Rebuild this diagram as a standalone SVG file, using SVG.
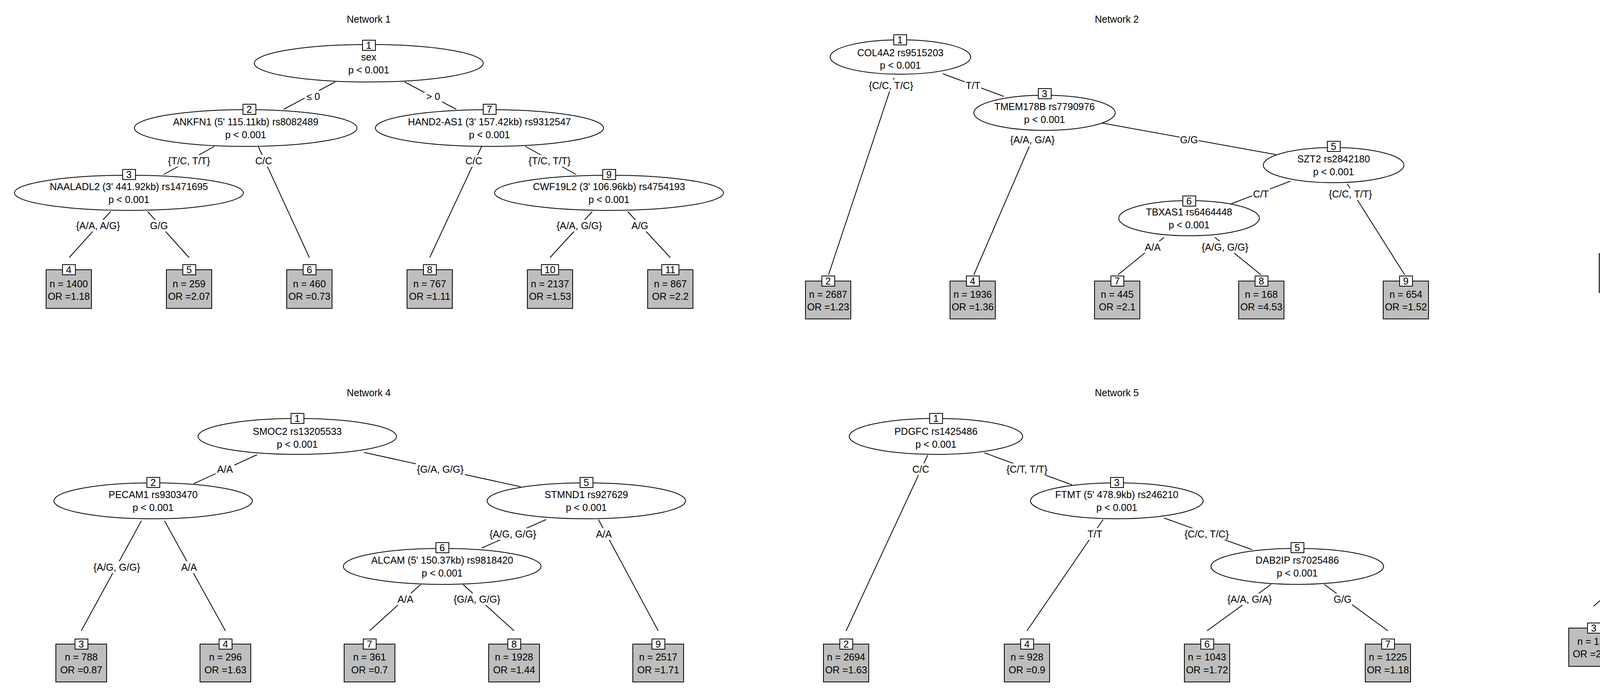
<svg xmlns="http://www.w3.org/2000/svg" width="5568" height="1783" viewBox="0 0 5568 1783">
<style>
text{font-family:"Liberation Sans",Arial,sans-serif;font-size:25px;fill:#000;text-anchor:middle}
.e{fill:#fff;stroke:#000;stroke-width:2}
.t{fill:#bebebe;stroke:#000;stroke-width:2}
.b{fill:#fff;stroke:#000;stroke-width:2}
.c line{stroke:#000;stroke-width:2}
.lb{fill:#fff;stroke:none}
</style>
<rect width="5568" height="1783" fill="#fff"/>
<g class="c" id="connectors">
<!-- N1 -->
<line x1="858" y1="210" x2="726" y2="280"/><line x1="1036" y1="210" x2="1168" y2="280"/>
<line x1="549" y1="375" x2="419" y2="447"/><line x1="661" y1="375" x2="792" y2="660"/>
<line x1="1233" y1="375" x2="1100" y2="660"/><line x1="1345" y1="375" x2="1475" y2="447"/>
<line x1="283" y1="542" x2="177" y2="660"/><line x1="378" y1="542" x2="484" y2="660"/>
<line x1="1516" y1="542" x2="1408" y2="660"/><line x1="1607" y1="542" x2="1716" y2="660"/>
<!-- N2 -->
<line x1="2289" y1="199" x2="2121" y2="704"/><line x1="2414" y1="189" x2="2570" y2="247"/>
<line x1="2635" y1="375" x2="2493" y2="704"/><line x1="2820" y1="315" x2="3266" y2="396"/>
<line x1="3304" y1="464" x2="3152" y2="522"/><line x1="3449" y1="471" x2="3596" y2="704"/>
<line x1="2980" y1="608" x2="2862" y2="704"/><line x1="3110" y1="608" x2="3228" y2="704"/>
<!-- N3 -->
<line x1="4966" y1="223" x2="4579" y2="351"/><line x1="5117" y1="232" x2="5389" y2="597"/>
<line x1="4397" y1="436" x2="4157" y2="597"/><line x1="4534" y1="436" x2="4774" y2="597"/>
<!-- N4 -->
<line x1="658" y1="1165" x2="496" y2="1239"/><line x1="932" y1="1159" x2="1333" y2="1247"/>
<line x1="362" y1="1334" x2="208" y2="1616"/><line x1="421" y1="1334" x2="577" y2="1616"/>
<line x1="1398" y1="1331" x2="1233" y2="1404"/><line x1="1532" y1="1331" x2="1685" y2="1616"/>
<line x1="1076" y1="1498" x2="946" y2="1616"/><line x1="1186" y1="1498" x2="1316" y2="1616"/>
<!-- N5 -->
<line x1="2375" y1="1166" x2="2166" y2="1616"/><line x1="2520" y1="1160" x2="2744" y2="1242"/>
<line x1="2824" y1="1331" x2="2629" y2="1616"/><line x1="2980" y1="1327" x2="3205" y2="1408"/>
<line x1="3254" y1="1497" x2="3090" y2="1616"/><line x1="3390" y1="1497" x2="3553" y2="1616"/>
<!-- N6 -->
<line x1="4674" y1="1183" x2="4409" y2="1302"/><line x1="4873" y1="1183" x2="5139" y2="1303"/>
<line x1="4256" y1="1394" x2="4080" y2="1553"/><line x1="4363" y1="1394" x2="4542" y2="1553"/>
<line x1="5180" y1="1394" x2="5003" y2="1553"/><line x1="5288" y1="1394" x2="5464" y2="1553"/>
<!-- edge labels -->
<g id="edge-labels">
<rect class="lb" x="780" y="232" width="45" height="30"/><text x="802" y="256">≤ 0</text>
<rect class="lb" x="1087" y="232" width="45" height="30"/><text x="1109" y="256">&gt; 0</text>
<rect class="lb" x="427" y="397" width="115" height="30"/><text x="484" y="421">{T/C, T/T}</text>
<rect class="lb" x="651" y="397" width="48" height="30"/><text x="675" y="421">C/C</text>
<rect class="lb" x="1189" y="397" width="48" height="30"/><text x="1213" y="421">C/C</text>
<rect class="lb" x="1350" y="397" width="115" height="30"/><text x="1407" y="421">{T/C, T/T}</text>
<rect class="lb" x="189" y="563" width="125" height="30"/><text x="251" y="587">{A/A, A/G}</text>
<rect class="lb" x="383" y="563" width="48" height="30"/><text x="407" y="587">G/G</text>
<rect class="lb" x="1421" y="563" width="125" height="30"/><text x="1483" y="587">{A/A, G/G}</text>
<rect class="lb" x="1614" y="563" width="48" height="30"/><text x="1638" y="587">A/G</text>

<rect class="lb" x="2221" y="204" width="120" height="30"/><text x="2281" y="228">{C/C, T/C}</text>
<rect class="lb" x="2470" y="204" width="42" height="30"/><text x="2491" y="228">T/T</text>
<rect class="lb" x="2580" y="343" width="125" height="30"/><text x="2643" y="367">{A/A, G/A}</text>
<rect class="lb" x="3020" y="343" width="48" height="30"/><text x="3044" y="367">G/G</text>
<rect class="lb" x="3206" y="482" width="45" height="30"/><text x="3228" y="506">C/T</text>
<rect class="lb" x="3397" y="482" width="120" height="30"/><text x="3457" y="506">{C/C, T/T}</text>
<rect class="lb" x="2927" y="618" width="48" height="30"/><text x="2951" y="642">A/A</text>
<rect class="lb" x="3074" y="618" width="125" height="30"/><text x="3136" y="642">{A/G, G/G}</text>

<rect class="lb" x="4745" y="274" width="42" height="30"/><text x="4766" y="298">T/T</text>
<rect class="lb" x="5095" y="274" width="120" height="30"/><text x="5155" y="298">{C/C, T/C}</text>
<rect class="lb" x="4286" y="480" width="48" height="30"/><text x="4310" y="504">G/G</text>
<rect class="lb" x="4555" y="480" width="125" height="30"/><text x="4617" y="504">{A/A, A/G}</text>

<rect class="lb" x="552" y="1187" width="48" height="30"/><text x="576" y="1211">A/A</text>
<rect class="lb" x="1065" y="1187" width="125" height="30"/><text x="1127" y="1211">{G/A, G/G}</text>
<rect class="lb" x="237" y="1438" width="125" height="30"/><text x="299" y="1462">{A/G, G/G}</text>
<rect class="lb" x="460" y="1438" width="48" height="30"/><text x="484" y="1462">A/A</text>
<rect class="lb" x="1251" y="1353" width="125" height="30"/><text x="1313" y="1377">{A/G, G/G}</text>
<rect class="lb" x="1522" y="1353" width="48" height="30"/><text x="1546" y="1377">A/A</text>
<rect class="lb" x="1014" y="1520" width="48" height="30"/><text x="1038" y="1544">A/A</text>
<rect class="lb" x="1159" y="1520" width="125" height="30"/><text x="1221" y="1544">{G/A, G/G}</text>

<rect class="lb" x="2333" y="1187" width="48" height="30"/><text x="2357" y="1211">C/C</text>
<rect class="lb" x="2569" y="1187" width="120" height="30"/><text x="2629" y="1211">{C/T, T/T}</text>
<rect class="lb" x="2782" y="1353" width="42" height="30"/><text x="2803" y="1377">T/T</text>
<rect class="lb" x="3029" y="1353" width="120" height="30"/><text x="3089" y="1377">{C/C, T/C}</text>
<rect class="lb" x="3137" y="1520" width="125" height="30"/><text x="3199" y="1544">{A/A, G/A}</text>
<rect class="lb" x="3413" y="1520" width="48" height="30"/><text x="3437" y="1544">G/G</text>

<rect class="lb" x="4516" y="1231" width="48" height="30"/><text x="4540" y="1255">A/A</text>
<rect class="lb" x="4942" y="1231" width="125" height="30"/><text x="5004" y="1255">{G/A, G/G}</text>
<rect class="lb" x="4170" y="1438" width="48" height="30"/><text x="4194" y="1462">G/G</text>
<rect class="lb" x="4362" y="1438" width="125" height="30"/><text x="4424" y="1462">{A/A, A/G}</text>
<rect class="lb" x="5096" y="1438" width="48" height="30"/><text x="5120" y="1462">G/A</text>
<rect class="lb" x="5288" y="1438" width="125" height="30"/><text x="5350" y="1462">{A/A, G/G}</text>
</g>
</g>

<!-- titles -->
<text x="944" y="58">Network 1</text>
<text x="2859" y="58">Network 2</text>
<text x="4772" y="58">Network 3</text>
<text x="944" y="1015">Network 4</text>
<text x="2859" y="1015">Network 5</text>
<text x="4772" y="1015">Network 6</text>

<!-- Network 1 inner nodes -->
<g id="n1-1"><ellipse class="e" cx="944" cy="162" rx="293" ry="48"/><rect class="b" x="928" y="103" width="33" height="26"/><text x="944" y="125">1</text><text x="944" y="155">sex</text><text x="944" y="188">p &lt; 0.001</text></g>
<g id="n1-2"><ellipse class="e" cx="629" cy="328" rx="285" ry="47"/><rect class="b" x="622" y="267" width="33" height="26"/><text x="638" y="289">2</text><text x="629" y="321">ANKFN1 (5' 115.11kb) rs8082489</text><text x="629" y="354">p &lt; 0.001</text></g>
<g id="n1-7"><ellipse class="e" cx="1253" cy="328" rx="292" ry="47"/><rect class="b" x="1237" y="267" width="33" height="26"/><text x="1253" y="289">7</text><text x="1253" y="321">HAND2-AS1 (3' 157.42kb) rs9312547</text><text x="1253" y="354">p &lt; 0.001</text></g>
<g id="n1-3"><ellipse class="e" cx="330" cy="494" rx="293" ry="45"/><rect class="b" x="314" y="434" width="33" height="26"/><text x="330" y="456">3</text><text x="330" y="487">NAALADL2 (3' 441.92kb) rs1471695</text><text x="330" y="520">p &lt; 0.001</text></g>
<g id="n1-9"><ellipse class="e" cx="1559" cy="494" rx="293" ry="45"/><rect class="b" x="1543" y="434" width="33" height="26"/><text x="1559" y="456">9</text><text x="1559" y="487">CWF19L2 (3' 106.96kb) rs4754193</text><text x="1559" y="520">p &lt; 0.001</text></g>
<!-- Network 1 terminals -->
<g id="n1-4"><rect class="t" x="118" y="691" width="116" height="99"/><rect class="b" x="160" y="678" width="33" height="26"/><text x="176" y="700">4</text><text x="176" y="736">n = 1400</text><text x="176" y="768">OR =1.18</text></g>
<g id="n1-5"><rect class="t" x="426" y="691" width="116" height="99"/><rect class="b" x="468" y="678" width="33" height="26"/><text x="484" y="700">5</text><text x="484" y="736">n = 259</text><text x="484" y="768">OR =2.07</text></g>
<g id="n1-6"><rect class="t" x="734" y="691" width="116" height="99"/><rect class="b" x="776" y="678" width="33" height="26"/><text x="792" y="700">6</text><text x="792" y="736">n = 460</text><text x="792" y="768">OR =0.73</text></g>
<g id="n1-8"><rect class="t" x="1042" y="691" width="116" height="99"/><rect class="b" x="1084" y="678" width="33" height="26"/><text x="1100" y="700">8</text><text x="1100" y="736">n = 767</text><text x="1100" y="768">OR =1.11</text></g>
<g id="n1-10"><rect class="t" x="1350" y="691" width="116" height="99"/><rect class="b" x="1386" y="678" width="44" height="26"/><text x="1408" y="700">10</text><text x="1408" y="736">n = 2137</text><text x="1408" y="768">OR =1.53</text></g>
<g id="n1-11"><rect class="t" x="1658" y="691" width="116" height="99"/><rect class="b" x="1694" y="678" width="44" height="26"/><text x="1716" y="700">11</text><text x="1716" y="736">n = 867</text><text x="1716" y="768">OR =2.2</text></g>

<!-- Network 2 -->
<g id="n2-1"><ellipse class="e" cx="2305" cy="146" rx="180" ry="44"/><rect class="b" x="2288" y="89" width="33" height="26"/><text x="2304" y="111">1</text><text x="2305" y="144">COL4A2 rs9515203</text><text x="2305" y="176">p &lt; 0.001</text></g>
<g id="n2-3"><ellipse class="e" cx="2674" cy="289" rx="181" ry="45"/><rect class="b" x="2658" y="227" width="33" height="26"/><text x="2674" y="249">3</text><text x="2674" y="282">TMEM178B rs7790976</text><text x="2674" y="315">p &lt; 0.001</text></g>
<g id="n2-5"><ellipse class="e" cx="3414" cy="423" rx="180" ry="45"/><rect class="b" x="3398" y="362" width="33" height="26"/><text x="3414" y="384">5</text><text x="3414" y="416">SZT2 rs2842180</text><text x="3414" y="449">p &lt; 0.001</text></g>
<g id="n2-6"><ellipse class="e" cx="3044" cy="559" rx="180" ry="45"/><rect class="b" x="3028" y="502" width="33" height="26"/><text x="3044" y="524">6</text><text x="3044" y="552">TBXAS1 rs6464448</text><text x="3044" y="585">p &lt; 0.001</text></g>
<g id="n2-2"><rect class="t" x="2062" y="720" width="116" height="97"/><rect class="b" x="2104" y="707" width="33" height="26"/><text x="2120" y="729">2</text><text x="2120" y="763">n = 2687</text><text x="2120" y="795">OR =1.23</text></g>
<g id="n2-4"><rect class="t" x="2432" y="720" width="116" height="97"/><rect class="b" x="2474" y="707" width="33" height="26"/><text x="2490" y="729">4</text><text x="2490" y="763">n = 1936</text><text x="2490" y="795">OR =1.36</text></g>
<g id="n2-7"><rect class="t" x="2802" y="720" width="116" height="97"/><rect class="b" x="2844" y="707" width="33" height="26"/><text x="2860" y="729">7</text><text x="2860" y="763">n = 445</text><text x="2860" y="795">OR =2.1</text></g>
<g id="n2-8"><rect class="t" x="3171" y="720" width="116" height="97"/><rect class="b" x="3213" y="707" width="33" height="26"/><text x="3229" y="729">8</text><text x="3229" y="763">n = 168</text><text x="3229" y="795">OR =4.53</text></g>
<g id="n2-9"><rect class="t" x="3541" y="720" width="116" height="97"/><rect class="b" x="3583" y="707" width="33" height="26"/><text x="3599" y="729">9</text><text x="3599" y="763">n = 654</text><text x="3599" y="795">OR =1.52</text></g>

<!-- Network 3 -->
<g id="n3-1"><ellipse class="e" cx="5082" cy="183" rx="170" ry="47"/><rect class="b" x="5066" y="122" width="33" height="26"/><text x="5082" y="144">1</text><text x="5082" y="176">VAV3-AS1 rs3747945</text><text x="5082" y="209">p &lt; 0.001</text></g>
<g id="n3-2"><ellipse class="e" cx="4465" cy="390" rx="171" ry="47"/><rect class="b" x="4449" y="329" width="33" height="26"/><text x="4465" y="351">2</text><text x="4465" y="383">NPAS3 rs8008403</text><text x="4465" y="416">p &lt; 0.001</text></g>
<g id="n3-3"><rect class="t" x="4094" y="650" width="127" height="99"/><rect class="b" x="4141" y="636" width="33" height="26"/><text x="4157" y="658">3</text><text x="4157" y="693">n = 450</text><text x="4157" y="726">OR =1.07</text></g>
<g id="n3-4"><rect class="t" x="4710" y="650" width="127" height="99"/><rect class="b" x="4757" y="636" width="33" height="26"/><text x="4773" y="658">4</text><text x="4773" y="693">n = 1835</text><text x="4773" y="726">OR =1.82</text></g>
<g id="n3-5"><rect class="t" x="5325" y="650" width="127" height="99"/><rect class="b" x="5372" y="636" width="33" height="26"/><text x="5388" y="658">5</text><text x="5388" y="693">n = 3605</text><text x="5388" y="726">OR =1.28</text></g>

<!-- Network 4 -->
<g id="n4-1"><ellipse class="e" cx="761" cy="1118" rx="254" ry="46"/><rect class="b" x="745" y="1059" width="33" height="26"/><text x="761" y="1081">1</text><text x="761" y="1114">SMOC2 rs13205533</text><text x="761" y="1147">p &lt; 0.001</text></g>
<g id="n4-2"><ellipse class="e" cx="392" cy="1283" rx="254" ry="46"/><rect class="b" x="376" y="1223" width="33" height="26"/><text x="392" y="1245">2</text><text x="392" y="1276">PECAM1 rs9303470</text><text x="392" y="1309">p &lt; 0.001</text></g>
<g id="n4-5"><ellipse class="e" cx="1501" cy="1283" rx="254" ry="46"/><rect class="b" x="1485" y="1223" width="33" height="26"/><text x="1501" y="1245">5</text><text x="1501" y="1276">STMND1 rs927629</text><text x="1501" y="1309">p &lt; 0.001</text></g>
<g id="n4-6"><ellipse class="e" cx="1132" cy="1451" rx="253" ry="46"/><rect class="b" x="1116" y="1390" width="33" height="26"/><text x="1132" y="1412">6</text><text x="1132" y="1444">ALCAM (5' 150.37kb) rs9818420</text><text x="1132" y="1477">p &lt; 0.001</text></g>
<g id="n4-3"><rect class="t" x="143" y="1650" width="130" height="97"/><rect class="b" x="192" y="1637" width="33" height="26"/><text x="208" y="1659">3</text><text x="208" y="1692">n = 788</text><text x="208" y="1725">OR =0.87</text></g>
<g id="n4-4"><rect class="t" x="512" y="1650" width="130" height="97"/><rect class="b" x="561" y="1637" width="33" height="26"/><text x="577" y="1659">4</text><text x="577" y="1692">n = 296</text><text x="577" y="1725">OR =1.63</text></g>
<g id="n4-7"><rect class="t" x="881" y="1650" width="130" height="97"/><rect class="b" x="930" y="1637" width="33" height="26"/><text x="946" y="1659">7</text><text x="946" y="1692">n = 361</text><text x="946" y="1725">OR =0.7</text></g>
<g id="n4-8"><rect class="t" x="1251" y="1650" width="130" height="97"/><rect class="b" x="1300" y="1637" width="33" height="26"/><text x="1316" y="1659">8</text><text x="1316" y="1692">n = 1928</text><text x="1316" y="1725">OR =1.44</text></g>
<g id="n4-9"><rect class="t" x="1620" y="1650" width="130" height="97"/><rect class="b" x="1669" y="1637" width="33" height="26"/><text x="1685" y="1659">9</text><text x="1685" y="1692">n = 2517</text><text x="1685" y="1725">OR =1.71</text></g>

<!-- Network 5 -->
<g id="n5-1"><ellipse class="e" cx="2396" cy="1118" rx="222" ry="46"/><rect class="b" x="2380" y="1059" width="33" height="26"/><text x="2396" y="1081">1</text><text x="2396" y="1114">PDGFC rs1425486</text><text x="2396" y="1147">p &lt; 0.001</text></g>
<g id="n5-3"><ellipse class="e" cx="2859" cy="1283" rx="221" ry="46"/><rect class="b" x="2843" y="1223" width="33" height="26"/><text x="2859" y="1245">3</text><text x="2859" y="1276">FTMT (5' 478.9kb) rs246210</text><text x="2859" y="1309">p &lt; 0.001</text></g>
<g id="n5-5"><ellipse class="e" cx="3321" cy="1451" rx="221" ry="46"/><rect class="b" x="3305" y="1390" width="33" height="26"/><text x="3321" y="1412">5</text><text x="3321" y="1444">DAB2IP rs7025486</text><text x="3321" y="1477">p &lt; 0.001</text></g>
<g id="n5-2"><rect class="t" x="2108" y="1650" width="116" height="97"/><rect class="b" x="2150" y="1637" width="33" height="26"/><text x="2166" y="1659">2</text><text x="2166" y="1692">n = 2694</text><text x="2166" y="1725">OR =1.63</text></g>
<g id="n5-4"><rect class="t" x="2571" y="1650" width="116" height="97"/><rect class="b" x="2613" y="1637" width="33" height="26"/><text x="2629" y="1659">4</text><text x="2629" y="1692">n = 928</text><text x="2629" y="1725">OR =0.9</text></g>
<g id="n5-6"><rect class="t" x="3032" y="1650" width="116" height="97"/><rect class="b" x="3074" y="1637" width="33" height="26"/><text x="3090" y="1659">6</text><text x="3090" y="1692">n = 1043</text><text x="3090" y="1725">OR =1.72</text></g>
<g id="n5-7"><rect class="t" x="3495" y="1650" width="116" height="97"/><rect class="b" x="3537" y="1637" width="33" height="26"/><text x="3553" y="1659">7</text><text x="3553" y="1692">n = 1225</text><text x="3553" y="1725">OR =1.18</text></g>

<!-- Network 6 -->
<g id="n6-1"><ellipse class="e" cx="4773" cy="1138" rx="198" ry="46"/><rect class="b" x="4757" y="1079" width="33" height="26"/><text x="4773" y="1101">1</text><text x="4773" y="1132">CDKN2B-AS1 rs1333042</text><text x="4773" y="1165">p &lt; 0.001</text></g>
<g id="n6-2"><ellipse class="e" cx="4311" cy="1346" rx="198" ry="46"/><rect class="b" x="4295" y="1286" width="33" height="26"/><text x="4311" y="1308">2</text><text x="4311" y="1339">ZFP2 rs953741</text><text x="4311" y="1372">p &lt; 0.001</text></g>
<g id="n6-5"><ellipse class="e" cx="5234" cy="1346" rx="198" ry="46"/><rect class="b" x="5218" y="1286" width="33" height="26"/><text x="5234" y="1308">5</text><text x="5234" y="1339">SERPINA13 rs17826595</text><text x="5234" y="1372">p &lt; 0.001</text></g>
<g id="n6-3"><rect class="t" x="4016" y="1609" width="129" height="98"/><rect class="b" x="4064" y="1596" width="33" height="26"/><text x="4080" y="1618">3</text><text x="4080" y="1652">n = 133</text><text x="4080" y="1684">OR =2.32</text></g>
<g id="n6-4"><rect class="t" x="4478" y="1609" width="129" height="98"/><rect class="b" x="4526" y="1596" width="33" height="26"/><text x="4542" y="1618">4</text><text x="4542" y="1652">n = 1263</text><text x="4542" y="1684">OR =1.01</text></g>
<g id="n6-6"><rect class="t" x="4939" y="1609" width="129" height="98"/><rect class="b" x="4987" y="1596" width="33" height="26"/><text x="5003" y="1618">6</text><text x="5003" y="1652">n = 1369</text><text x="5003" y="1684">OR =1.19</text></g>
<g id="n6-7"><rect class="t" x="5400" y="1609" width="129" height="98"/><rect class="b" x="5448" y="1596" width="33" height="26"/><text x="5464" y="1618">7</text><text x="5464" y="1652">n = 3125</text><text x="5464" y="1684">OR =1.68</text></g>
</svg>
